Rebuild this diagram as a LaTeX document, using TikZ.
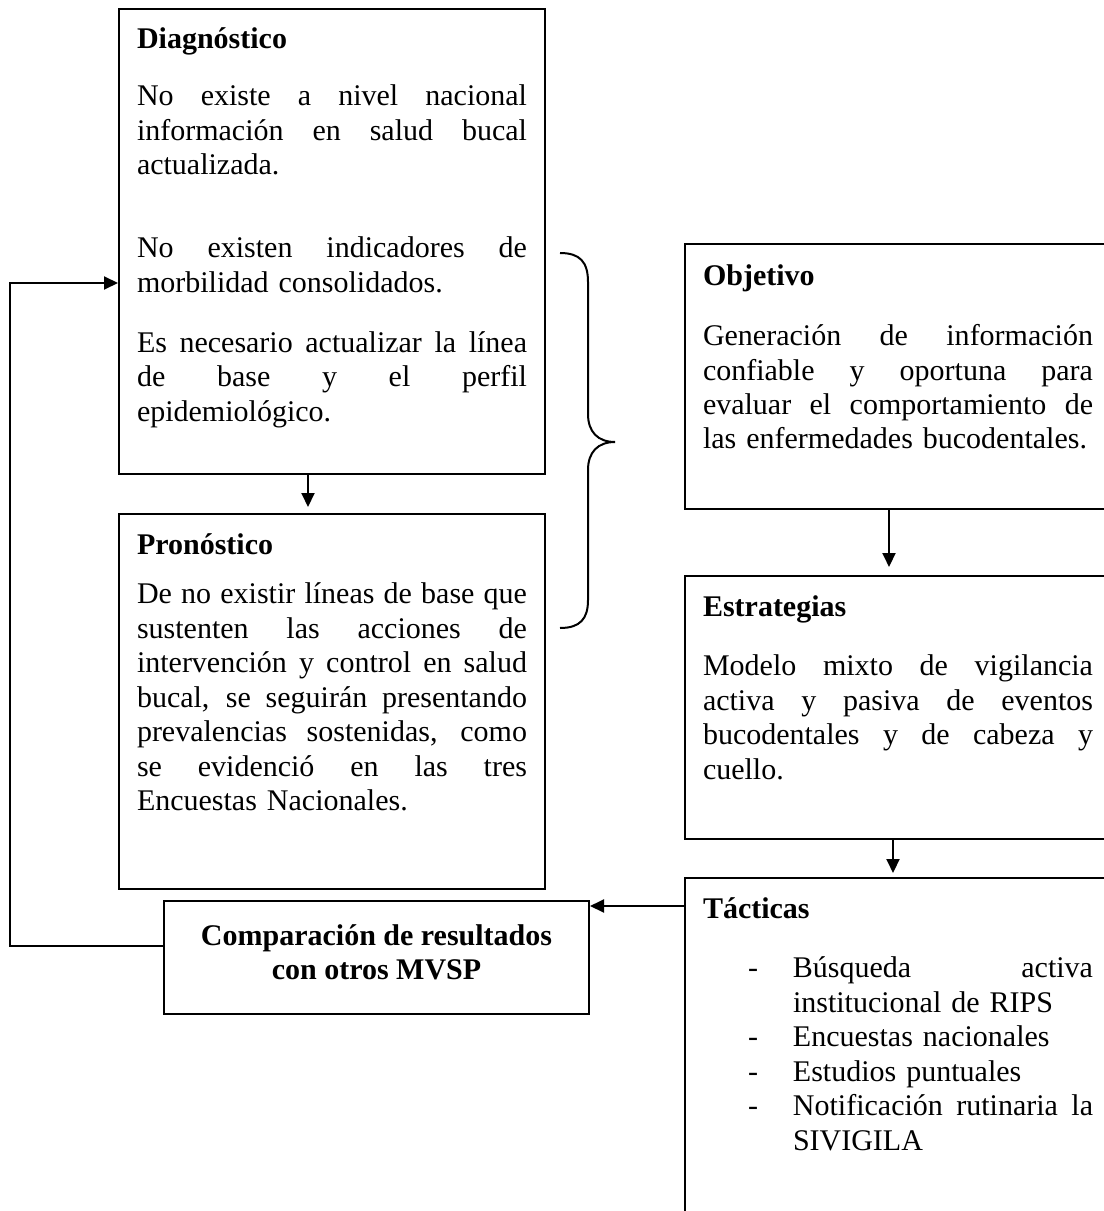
\documentclass[tikz,border=0pt]{standalone}
\usepackage{fontspec}
\setmainfont{Liberation Serif}
\usepackage{tikz}
\usetikzlibrary{arrows.meta,calc,positioning}

\tikzset{
	box/.style={draw, inner sep=0pt, anchor=north west},
	boxtext/.style={inner sep=0pt, anchor=north west, text width=156pt, align=left, font=\fontsize{12pt}{13.8pt}\selectfont},
}
\newcommand{\jl}[1]{\makebox[\linewidth][s]{\spaceskip=0pt\xspaceskip=0pt #1}}
\newcommand{\itemj}[1]{\hspace*{18pt}\makebox[18pt][l]{-}\makebox[\dimexpr\linewidth-36pt\relax][s]{\spaceskip=0pt\xspaceskip=0pt #1}}
\newcommand{\itemr}[1]{\hspace*{18pt}\makebox[18pt][l]{-}#1}
\newcommand{\itemc}[1]{\hspace*{36pt}#1}

\begin{document}
\begin{tikzpicture}[x=0.4pt, y=-0.4pt, line width=0.8pt, >={Triangle[length=5.6pt,width=5.2pt]}]
	\useasboundingbox (0,0) rectangle (1104,1211);
	\clip (0,0) rectangle (1104,1211);
	% left column
	\node[box, minimum width=170.4pt, minimum height=186pt] (diag) at (118,8) {};
	\node[boxtext] (diagtext) at ($(diag.north west)+(18,10)$) {\rule{0pt}{12pt}\textbf{Diagnóstico}\\[9pt]
		\jl{No existe a nivel nacional}\\
		\jl{información en salud bucal}\\
		actualizada.\\[19.4pt]
		\jl{No existen indicadores de}\\
		morbilidad consolidados.\\[10pt]
		\jl{Es necesario actualizar la línea}\\
		\jl{de base y el perfil}\\
		epidemiológico.};
	\node[box, minimum width=170.4pt, minimum height=150pt] (prono) at (118,513) {};
	\node[boxtext] (pronotext) at ($(prono.north west)+(18,10)$) {\rule{0pt}{12pt}\textbf{Pronóstico}\\[6pt]
		\jl{De no existir líneas de base que}\\
		\jl{sustenten las acciones de}\\
		\jl{intervención y control en salud}\\
		\jl{bucal, se seguirán presentando}\\
		\jl{prevalencias sostenidas, como}\\
		\jl{se evidenció en las tres}\\
		Encuestas Nacionales.};
	\node[box, minimum width=170pt, minimum height=45.2pt] (comp) at (163,900) {};
	\node[inner sep=0pt, anchor=north, align=center, font=\fontsize{12pt}{13.8pt}\selectfont\bfseries] (comptext) at ($(comp.north)+(0,14)$) {\rule{0pt}{12pt}Comparación de resultados\\con otros MVSP};
	% right column
	\node[box, minimum width=176pt, minimum height=106pt] (obj) at (684,243) {};
	\node[boxtext] (objtext) at ($(obj.north west)+(18,12)$) {\rule{0pt}{12pt}\textbf{Objetivo}\\[10pt]
		\jl{Generación de información}\\
		\jl{confiable y oportuna para}\\
		\jl{evaluar el comportamiento de}\\
		las enfermedades bucodentales.};
	\node[box, minimum width=176pt, minimum height=105.2pt] (estr) at (684,575) {};
	\node[boxtext] (estrtext) at ($(estr.north west)+(18,10)$) {\rule{0pt}{12pt}\textbf{Estrategias}\\[10pt]
		\jl{Modelo mixto de vigilancia}\\
		\jl{activa y pasiva de eventos}\\
		\jl{bucodentales y de cabeza y}\\
		cuello.};
	\node[box, minimum width=176pt, minimum height=153.2pt] (tact) at (684,877) {};
	\node[boxtext] (tacttext) at ($(tact.north west)+(18,10)$) {\rule{0pt}{12pt}\textbf{Tácticas}\\[10pt]
		\itemj{Búsqueda activa}\\
		\itemc{institucional de RIPS}\\
		\itemr{Encuestas nacionales}\\
		\itemr{Estudios puntuales}\\
		\itemj{Notificación rutinaria la}\\
		\itemc{SIVIGILA}};
	% brace
	\draw (560,253) .. controls (580,253) and (588,262) .. (588,282) -- (588,414) .. controls (588,432) and (598,442) .. (615,442) .. controls (598,442) and (588,452) .. (588,470) -- (588,600) .. controls (588,619) and (580,628) .. (560,628);
	% arrows
	\draw[->, shorten >=2.4pt] ($(diag.south west)+(190,0)$) -- ($(prono.north west)+(190,0)$);
	\draw[->, shorten >=3.2pt] ($(obj.south west)+(205,0)$) -- ($(estr.north west)+(205,0)$);
	\draw[->, shorten >=1.6pt] ($(estr.south west)+(209,0)$) -- ($(tact.north west)+(209,0)$);
	\coordinate (tactout) at ($(comp.north east)+(0,6)$);
	\draw[->] (tactout -| tact.west) -- (tactout);
	\coordinate (compout) at ($(comp.north west)+(0,46)$);
	\draw[->] (compout) -- ++(-153,0) |- ($(diag.north west)+(0,275)$);
\end{tikzpicture}
\end{document}
